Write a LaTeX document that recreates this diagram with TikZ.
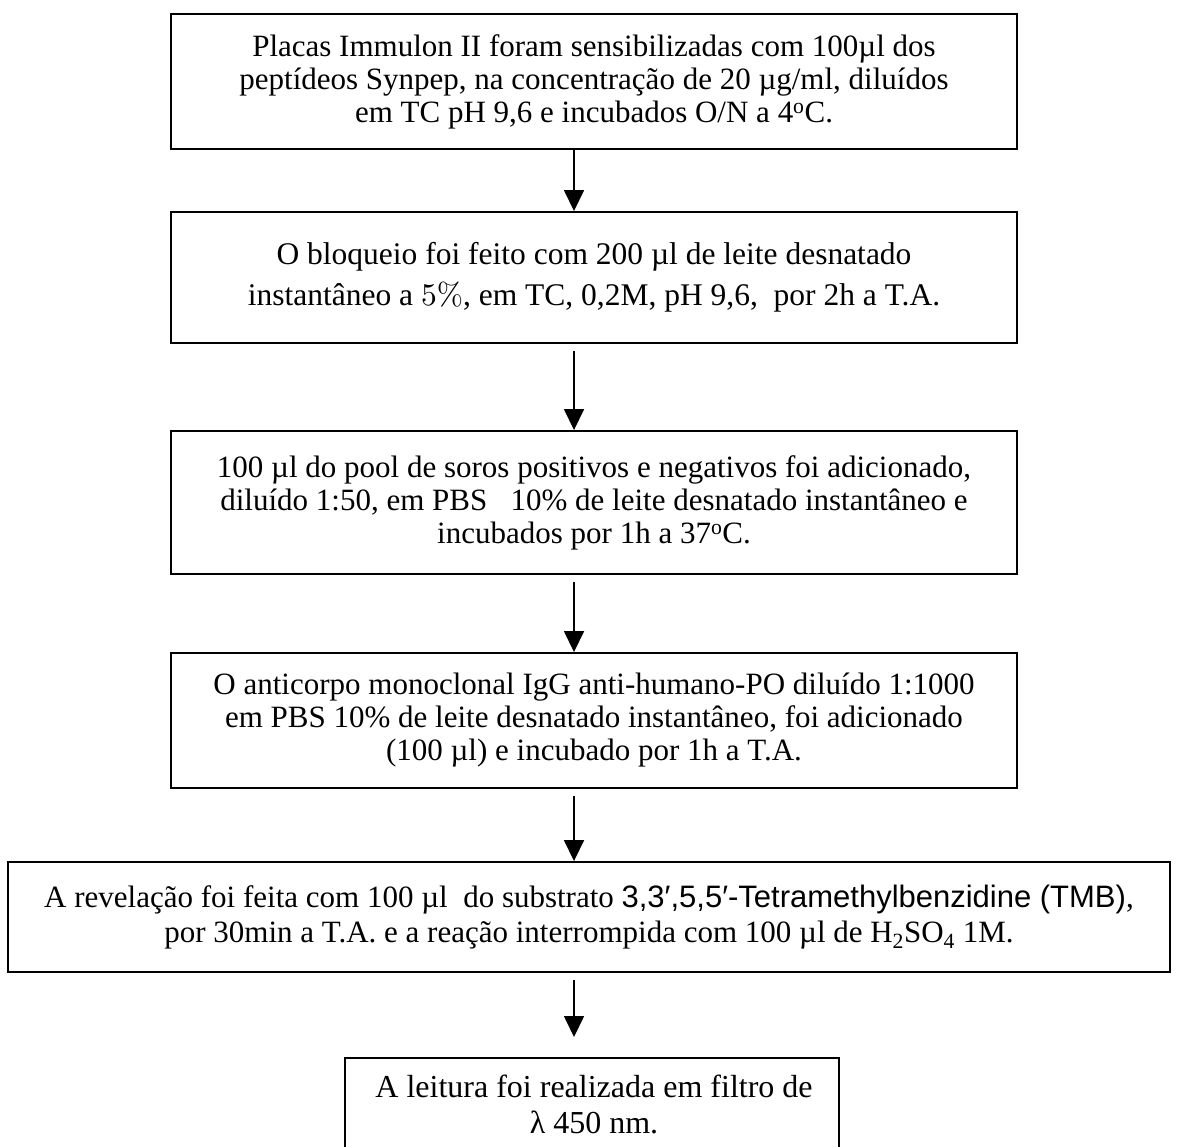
\documentclass[tikz,border=0pt]{standalone}
\usepackage{fontspec}
\setmainfont{Liberation Serif}
\newfontfamily\arialfont{Liberation Sans}
\newfontfamily\lmfont{lmroman10-regular.otf}
\usetikzlibrary{arrows.meta}
\tikzset{
  box/.style={draw=black, line width=1.9pt, align=center, inner sep=0pt, text=black,
    font=\fontsize{31}{33}\selectfont},
  midbox/.style={box, minimum width=846},
  arr/.style={draw=black, line width=1.6pt, -{Triangle[width=20pt,length=21pt]}},
}
\begin{document}
\begin{tikzpicture}[x=1pt,y=-1pt]
\useasboundingbox (0,0) rectangle (1177,1146);
\coordinate (ax) at (574,0);
\node[midbox, minimum height=135] (b1) at (594,81.5)
  {Placas Immulon II foram sensibilizadas com 100µl dos\\
   peptídeos Synpep, na concentração de 20 µg/ml, diluídos\\
   em TC pH 9,6 e incubados O/N a 4\textsuperscript{o}C.};
\node[midbox, minimum height=131, font=\fontsize{31.5}{33}\selectfont] (b2) at (594,277.5)
  {O bloqueio foi feito com 200 µl de leite desnatado\\[8pt]
   instantâneo a {\lmfont 5\%}, em TC, 0,2M, pH 9,6,\ \ por 2h a T.A.};
\node[midbox, minimum height=143] (b3) at (594,502.5)
  {100 µl do pool de soros positivos e negativos foi adicionado,\\
   diluído 1:50, em PBS\ \ \ 10\% de leite desnatado instantâneo e\\
   incubados por 1h a 37\textsuperscript{o}C.};
\node[midbox, minimum height=135] (b4) at (594,720.5)
  {O anticorpo monoclonal IgG anti-humano-PO diluído 1:1000\\
   em PBS 10\% de leite desnatado instantâneo, foi adicionado\\
   (100 µl) e incubado por 1h a T.A.};
\node[box, minimum width=1162, minimum height=110, font=\fontsize{31}{35}\selectfont] (b5) at (589,917)
  {A revelação foi feita com 100 µl\ \ do substrato {\arialfont 3,3′,5,5′-Tetramethylbenzidine (TMB)},\\
   por 30min a T.A. e a reação interrompida com 100 µl de H\textsubscript{2}SO\textsubscript{4} 1M.};
\node[box, minimum width=494, minimum height=140, anchor=north] (b6) at (592,1057) {};
\node[font=\fontsize{32}{36}\selectfont, align=center, anchor=base, inner sep=0pt] (t6) at (594,1133)
  {A leitura foi realizada em filtro de\\ λ 450 nm.};
\draw[arr] (b1.south -| ax) -- (b2.north -| ax);
\draw[arr, shorten <=7pt] (b2.south -| ax) -- (b3.north -| ax);
\draw[arr, shorten <=7pt] (b3.south -| ax) -- (b4.north -| ax);
\draw[arr, shorten <=7pt] (b4.south -| ax) -- (b5.north -| ax);
\draw[arr, shorten <=7pt, shorten >=20pt] (b5.south -| ax) -- (b6.north -| ax);
\end{tikzpicture}
\end{document}
